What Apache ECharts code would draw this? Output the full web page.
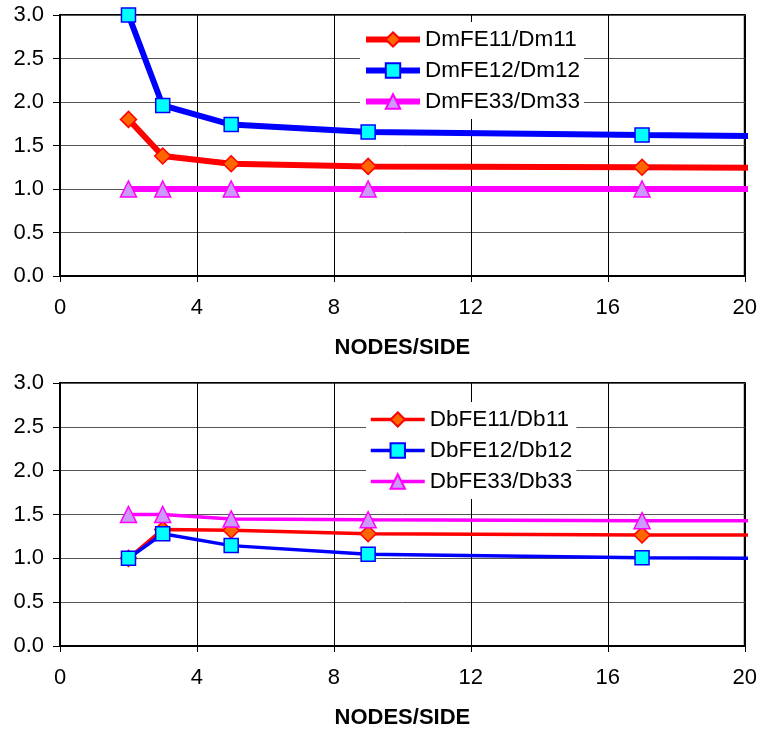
<!DOCTYPE html>
<html>
<head>
<meta charset="utf-8">
<script src="https://cdn.jsdelivr.net/npm/echarts@6/dist/echarts.min.js"></script>
<style>html,body{margin:0;padding:0;background:#fff;}#c{width:760px;height:731px;}</style>
</head>
<body>
<div id="c"></div>
<script>
// Shared x values (nodes per side); last value is where the lines leave the frame
const nodes = [2, 3, 5, 9, 17, 20.3];

// Top chart: membrane ratios
const topNames = ['DmFE11/Dm11', 'DmFE12/Dm12', 'DmFE33/Dm33'];
const dm11 = [1.80, 1.38, 1.29, 1.26, 1.25, 1.245];
const dm12 = [3.00, 1.96, 1.74, 1.655, 1.62, 1.61];
const dm33 = [1.00, 1.00, 1.00, 1.00, 1.00, 1.00];

// Bottom chart: bending ratios
const botNames = ['DbFE11/Db11', 'DbFE12/Db12', 'DbFE33/Db33'];
const db11 = [1.00, 1.33, 1.32, 1.28, 1.267, 1.265];
const db12 = [1.00, 1.28, 1.145, 1.047, 1.008, 1.00];
const db33 = [1.50, 1.50, 1.45, 1.44, 1.43, 1.43];

const xTicks = [0, 4, 8, 12, 16, 20];
const yTicks = [0, 0.5, 1, 1.5, 2, 2.5, 3];

const FONT = 'Liberation Sans, Arial, Helvetica, sans-serif';

function pts(ys) {
  return nodes.map((x, i) => {
    const it = { value: [x, ys[i]] };
    if (i === nodes.length - 1) it.symbol = 'none';
    return it;
  });
}

const styles = [
  { line: '#FF0000', fill: '#FF6600', symbol: 'diamond', size: 16 },
  { line: '#0000FF', fill: '#00FFFF', symbol: 'rect', size: 14 },
  { line: '#FF00FF', fill: '#CC99FF', symbol: 'triangle', size: 16 }
];

function mkSeries(names, arrays, idx, lw) {
  return names.map((n, k) => ({
    name: n,
    type: 'line',
    xAxisIndex: idx, yAxisIndex: idx,
    data: pts(arrays[k]),
    clip: false,
    symbol: styles[k].symbol,
    symbolSize: styles[k].size,
    showAllSymbol: true,
    lineStyle: { color: styles[k].line, width: lw },
    itemStyle: { color: styles[k].fill, borderColor: styles[k].line, borderWidth: 1.5 },
    emphasis: { disabled: true },
    animation: false
  }));
}

function xAxis(idx) {
  return {
    type: 'value', gridIndex: idx, min: xTicks[0], max: xTicks[xTicks.length - 1], interval: 4,
    name: 'NODES/SIDE', nameLocation: 'middle', nameGap: 61,
    nameTextStyle: { fontFamily: FONT, fontWeight: 'bold', fontSize: 22, color: '#000' },
    axisLine: { show: true, lineStyle: { color: '#000', width: 2 } },
    axisTick: { show: true, length: 6, inside: false, lineStyle: { color: '#000', width: 1 } },
    axisLabel: { fontFamily: FONT, fontSize: 22, color: '#000', margin: 21 },
    splitLine: { show: true, lineStyle: { color: '#000', width: 1 } }
  };
}
function yAxis(idx) {
  return {
    type: 'value', gridIndex: idx, min: yTicks[0], max: yTicks[yTicks.length - 1], interval: 0.5,
    axisLine: { show: true, lineStyle: { color: '#000', width: 2 } },
    axisTick: { show: true, length: 7, lineStyle: { color: '#000', width: 1 } },
    axisLabel: { fontFamily: FONT, fontSize: 22, color: '#000', margin: 16, formatter: v => v.toFixed(1) },
    splitLine: { show: true, lineStyle: { color: '#555', width: 1 } }
  };
}

function legend(names, left, top, lw) {
  return {
    data: names, orient: 'vertical', left: left, top: top,
    itemWidth: 54, itemHeight: 18, itemGap: 8,
    backgroundColor: '#fff', padding: [6, 4, 6, 3],
    lineStyle: { width: lw },
    textStyle: { fontFamily: FONT, fontSize: 22.5, color: '#000' },
    selectedMode: false
  };
}

const chart = echarts.init(document.getElementById('c'), null, { renderer: 'canvas' });
chart.setOption({
  animation: false,
  backgroundColor: '#fff',
  grid: [
    { left: 60, top: 15, width: 686, height: 261, show: true, borderColor: '#000', borderWidth: 2, backgroundColor: 'transparent' },
    { left: 60, top: 383, width: 686, height: 263, show: true, borderColor: '#000', borderWidth: 2, backgroundColor: 'transparent' }
  ],
  xAxis: [xAxis(0), xAxis(1)],
  yAxis: [yAxis(0), yAxis(1)],
  legend: [
    legend(topNames, 360, 22, 6),
    legend(botNames, 366, 402, 3.5)
  ],
  series: [
    ...mkSeries(topNames, [dm11, dm12, dm33], 0, 6),
    ...mkSeries(botNames, [db11, db12, db33], 1, 3.5)
  ]
});
</script>
</body>
</html>
